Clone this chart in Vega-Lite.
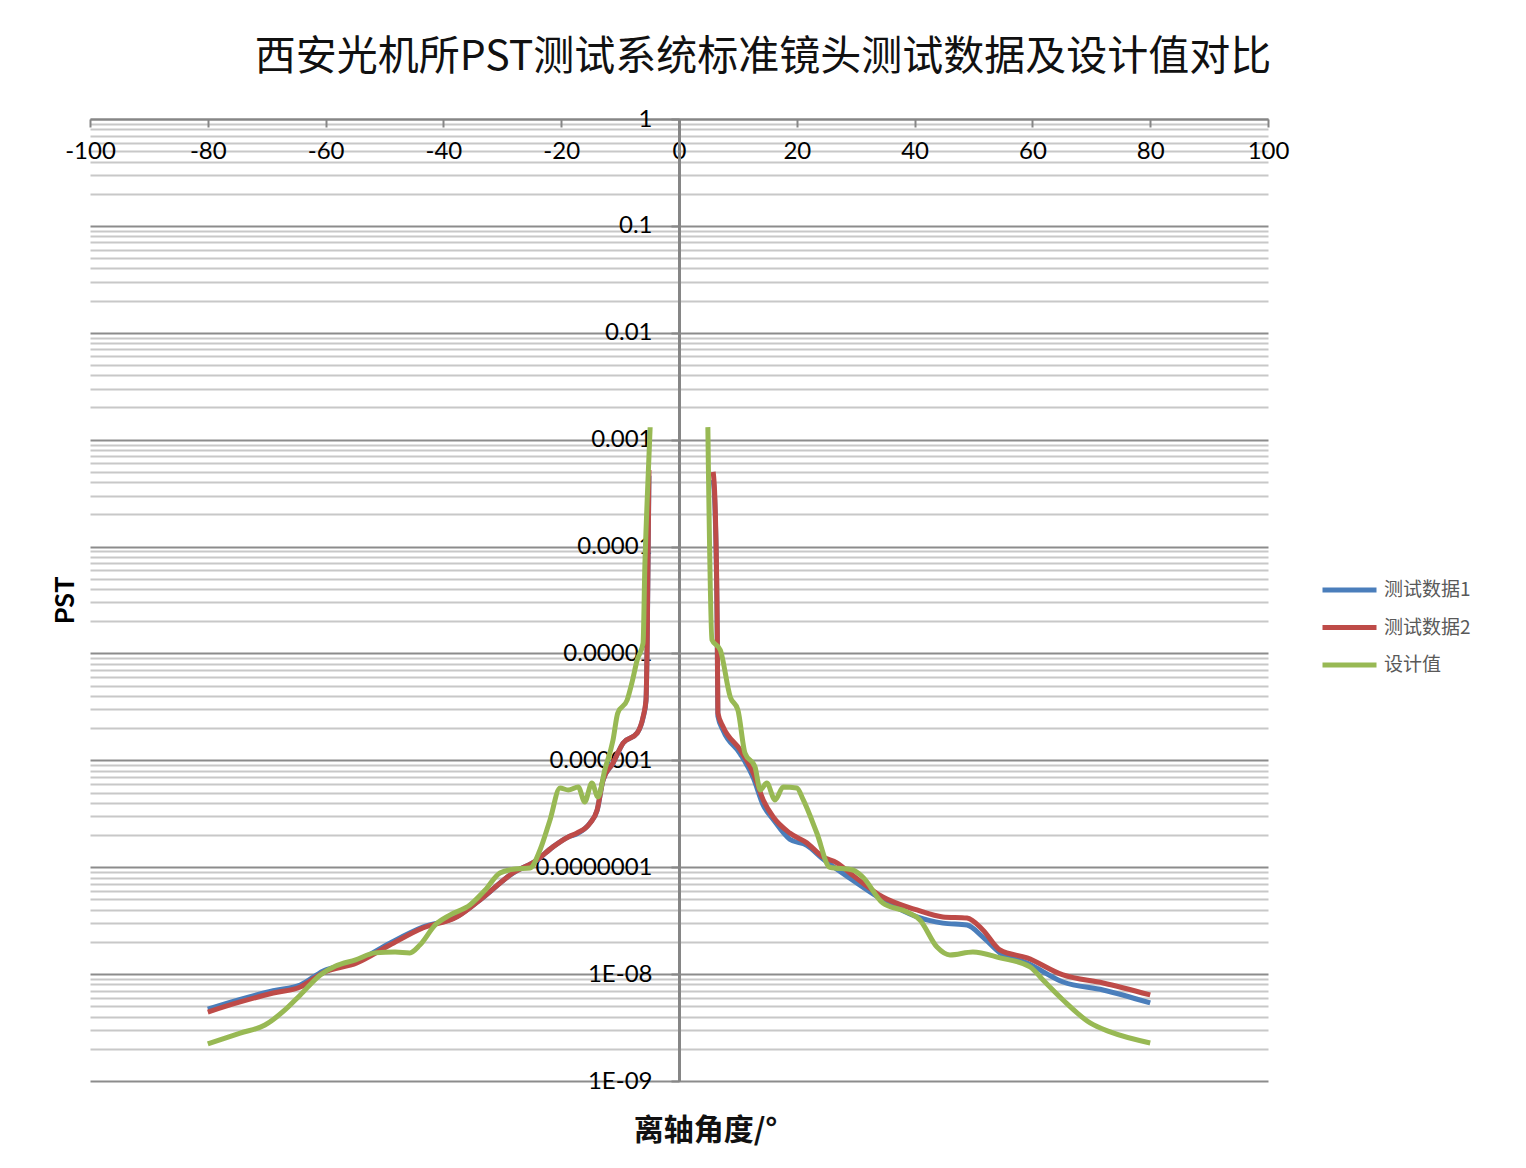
{
  "$schema": "https://vega.github.io/schema/vega-lite/v6.json",
  "width": 1178,
  "height": 962,
  "autosize": {"type": "none"},
  "padding": {"left": 90, "top": 119, "right": 258, "bottom": 87},
  "background": "white",
  "config": {"view": {"stroke": null}, "font": "Lato"},
  "title": {
    "text": "西安光机所PST测试系统标准镜头测试数据及设计值对比",
    "font": "Noto Sans CJK SC",
    "fontSize": 41,
    "fontWeight": "normal",
    "color": "#111111",
    "anchor": "middle",
    "frame": "group",
    "dx": 84,
    "offset": 28
  },
  "data": {
    "values": [
      {"s": "测试数据1", "side": "L", "x": -80, "y": 4.7e-9},
      {"s": "测试数据1", "side": "L", "x": -74.5, "y": 5.8e-9},
      {"s": "测试数据1", "side": "L", "x": -68.9, "y": 7.0e-9},
      {"s": "测试数据1", "side": "L", "x": -64.3, "y": 7.9e-9},
      {"s": "测试数据1", "side": "L", "x": -60.4, "y": 1.07e-8},
      {"s": "测试数据1", "side": "L", "x": -54.7, "y": 1.32e-8},
      {"s": "测试数据1", "side": "L", "x": -49.1, "y": 1.95e-8},
      {"s": "测试数据1", "side": "L", "x": -43.5, "y": 2.75e-8},
      {"s": "测试数据1", "side": "L", "x": -37.7, "y": 3.45e-8},
      {"s": "测试数据1", "side": "L", "x": -33.8, "y": 4.94e-8},
      {"s": "测试数据1", "side": "L", "x": -28.2, "y": 8.8e-8},
      {"s": "测试数据1", "side": "L", "x": -24.1, "y": 1.17e-7},
      {"s": "测试数据1", "side": "L", "x": -21.4, "y": 1.55e-7},
      {"s": "测试数据1", "side": "L", "x": -18.8, "y": 1.92e-7},
      {"s": "测试数据1", "side": "L", "x": -17.3, "y": 2.05e-7},
      {"s": "测试数据1", "side": "L", "x": -15.1, "y": 2.6e-7},
      {"s": "测试数据1", "side": "L", "x": -13.9, "y": 3.4e-7},
      {"s": "测试数据1", "side": "L", "x": -12.9, "y": 6.5e-7},
      {"s": "测试数据1", "side": "L", "x": -11.2, "y": 9.4e-7},
      {"s": "测试数据1", "side": "L", "x": -9.5, "y": 1.45e-6},
      {"s": "测试数据1", "side": "L", "x": -7.1, "y": 1.8e-6},
      {"s": "测试数据1", "side": "L", "x": -6.1, "y": 2.5e-6},
      {"s": "测试数据1", "side": "L", "x": -5.6, "y": 3.6e-6},
      {"s": "测试数据1", "side": "L", "x": -5.4, "y": 1.3e-5},
      {"s": "测试数据1", "side": "L", "x": -5.1, "y": 4.6e-4},
      {"s": "测试数据1", "side": "R", "x": 5.8, "y": 4.2e-4},
      {"s": "测试数据1", "side": "R", "x": 6.1, "y": 2.4e-4},
      {"s": "测试数据1", "side": "R", "x": 6.5, "y": 1.34e-5},
      {"s": "测试数据1", "side": "R", "x": 6.6, "y": 2.6e-6},
      {"s": "测试数据1", "side": "R", "x": 7.5, "y": 1.9e-6},
      {"s": "测试数据1", "side": "R", "x": 10.4, "y": 1.15e-6},
      {"s": "测试数据1", "side": "R", "x": 12.6, "y": 6.9e-7},
      {"s": "测试数据1", "side": "R", "x": 14.3, "y": 3.8e-7},
      {"s": "测试数据1", "side": "R", "x": 16.0, "y": 2.8e-7},
      {"s": "测试数据1", "side": "R", "x": 18.8, "y": 1.83e-7},
      {"s": "测试数据1", "side": "R", "x": 21.7, "y": 1.6e-7},
      {"s": "测试数据1", "side": "R", "x": 24.4, "y": 1.2e-7},
      {"s": "测试数据1", "side": "R", "x": 29.0, "y": 7.9e-8},
      {"s": "测试数据1", "side": "R", "x": 34.6, "y": 4.94e-8},
      {"s": "测试数据1", "side": "R", "x": 40.4, "y": 3.43e-8},
      {"s": "测试数据1", "side": "R", "x": 44.8, "y": 3.0e-8},
      {"s": "测试数据1", "side": "R", "x": 48.9, "y": 2.88e-8},
      {"s": "测试数据1", "side": "R", "x": 51.6, "y": 2.22e-8},
      {"s": "测试数据1", "side": "R", "x": 54.5, "y": 1.58e-8},
      {"s": "测试数据1", "side": "R", "x": 59.1, "y": 1.27e-8},
      {"s": "测试数据1", "side": "R", "x": 65.2, "y": 8.44e-9},
      {"s": "测试数据1", "side": "R", "x": 72.0, "y": 7.1e-9},
      {"s": "测试数据1", "side": "R", "x": 80.0, "y": 5.37e-9},

      {"s": "测试数据2", "side": "L", "x": -80, "y": 4.42e-9},
      {"s": "测试数据2", "side": "L", "x": -74.5, "y": 5.49e-9},
      {"s": "测试数据2", "side": "L", "x": -68.9, "y": 6.65e-9},
      {"s": "测试数据2", "side": "L", "x": -64.3, "y": 7.58e-9},
      {"s": "测试数据2", "side": "L", "x": -60.4, "y": 1.03e-8},
      {"s": "测试数据2", "side": "L", "x": -54.7, "y": 1.27e-8},
      {"s": "测试数据2", "side": "L", "x": -49.1, "y": 1.87e-8},
      {"s": "测试数据2", "side": "L", "x": -43.5, "y": 2.7e-8},
      {"s": "测试数据2", "side": "L", "x": -37.7, "y": 3.43e-8},
      {"s": "测试数据2", "side": "L", "x": -33.8, "y": 4.94e-8},
      {"s": "测试数据2", "side": "L", "x": -28.2, "y": 8.83e-8},
      {"s": "测试数据2", "side": "L", "x": -24.1, "y": 1.17e-7},
      {"s": "测试数据2", "side": "L", "x": -21.4, "y": 1.55e-7},
      {"s": "测试数据2", "side": "L", "x": -18.8, "y": 1.92e-7},
      {"s": "测试数据2", "side": "L", "x": -17.3, "y": 2.09e-7},
      {"s": "测试数据2", "side": "L", "x": -15.1, "y": 2.59e-7},
      {"s": "测试数据2", "side": "L", "x": -13.9, "y": 3.43e-7},
      {"s": "测试数据2", "side": "L", "x": -12.9, "y": 6.55e-7},
      {"s": "测试数据2", "side": "L", "x": -11.2, "y": 9.44e-7},
      {"s": "测试数据2", "side": "L", "x": -9.5, "y": 1.45e-6},
      {"s": "测试数据2", "side": "L", "x": -7.1, "y": 1.8e-6},
      {"s": "测试数据2", "side": "L", "x": -6.1, "y": 2.54e-6},
      {"s": "测试数据2", "side": "L", "x": -5.6, "y": 3.67e-6},
      {"s": "测试数据2", "side": "L", "x": -5.4, "y": 1.34e-5},
      {"s": "测试数据2", "side": "L", "x": -5.1, "y": 5.2e-4},
      {"s": "测试数据2", "side": "R", "x": 5.8, "y": 4.99e-4},
      {"s": "测试数据2", "side": "R", "x": 6.1, "y": 2.73e-4},
      {"s": "测试数据2", "side": "R", "x": 6.5, "y": 1.55e-5},
      {"s": "测试数据2", "side": "R", "x": 6.6, "y": 2.77e-6},
      {"s": "测试数据2", "side": "R", "x": 7.5, "y": 2.05e-6},
      {"s": "测试数据2", "side": "R", "x": 10.4, "y": 1.25e-6},
      {"s": "测试数据2", "side": "R", "x": 12.6, "y": 7.62e-7},
      {"s": "测试数据2", "side": "R", "x": 14.3, "y": 4.26e-7},
      {"s": "测试数据2", "side": "R", "x": 16.0, "y": 2.95e-7},
      {"s": "测试数据2", "side": "R", "x": 18.8, "y": 2.09e-7},
      {"s": "测试数据2", "side": "R", "x": 21.7, "y": 1.69e-7},
      {"s": "测试数据2", "side": "R", "x": 24.4, "y": 1.25e-7},
      {"s": "测试数据2", "side": "R", "x": 26.8, "y": 1.1e-7},
      {"s": "测试数据2", "side": "R", "x": 29.0, "y": 8.83e-8},
      {"s": "测试数据2", "side": "R", "x": 34.6, "y": 5.27e-8},
      {"s": "测试数据2", "side": "R", "x": 40.4, "y": 3.98e-8},
      {"s": "测试数据2", "side": "R", "x": 44.8, "y": 3.43e-8},
      {"s": "测试数据2", "side": "R", "x": 48.9, "y": 3.35e-8},
      {"s": "测试数据2", "side": "R", "x": 51.6, "y": 2.59e-8},
      {"s": "测试数据2", "side": "R", "x": 54.5, "y": 1.68e-8},
      {"s": "测试数据2", "side": "R", "x": 59.1, "y": 1.42e-8},
      {"s": "测试数据2", "side": "R", "x": 65.2, "y": 9.82e-9},
      {"s": "测试数据2", "side": "R", "x": 72.0, "y": 8.26e-9},
      {"s": "测试数据2", "side": "R", "x": 80.0, "y": 6.38e-9},

      {"s": "设计值", "side": "L", "x": -80, "y": 2.22e-9},
      {"s": "设计值", "side": "L", "x": -74.5, "y": 2.81e-9},
      {"s": "设计值", "side": "L", "x": -70.3, "y": 3.34e-9},
      {"s": "设计值", "side": "L", "x": -66.9, "y": 4.62e-9},
      {"s": "设计值", "side": "L", "x": -64.3, "y": 6.38e-9},
      {"s": "设计值", "side": "L", "x": -60.9, "y": 9.82e-9},
      {"s": "设计值", "side": "L", "x": -58.3, "y": 1.19e-8},
      {"s": "设计值", "side": "L", "x": -54.9, "y": 1.36e-8},
      {"s": "设计值", "side": "L", "x": -51.6, "y": 1.58e-8},
      {"s": "设计值", "side": "L", "x": -48.2, "y": 1.61e-8},
      {"s": "设计值", "side": "L", "x": -45.7, "y": 1.58e-8},
      {"s": "设计值", "side": "L", "x": -44.0, "y": 1.87e-8},
      {"s": "设计值", "side": "L", "x": -41.4, "y": 2.88e-8},
      {"s": "设计值", "side": "L", "x": -38.9, "y": 3.57e-8},
      {"s": "设计值", "side": "L", "x": -35.5, "y": 4.43e-8},
      {"s": "设计值", "side": "L", "x": -32.9, "y": 6.12e-8},
      {"s": "设计值", "side": "L", "x": -30.4, "y": 8.83e-8},
      {"s": "设计值", "side": "L", "x": -27.8, "y": 9.62e-8},
      {"s": "设计值", "side": "L", "x": -25.3, "y": 9.82e-8},
      {"s": "设计值", "side": "L", "x": -23.6, "y": 1.45e-7},
      {"s": "设计值", "side": "L", "x": -21.9, "y": 2.77e-7},
      {"s": "设计值", "side": "L", "x": -20.2, "y": 5.51e-7},
      {"s": "设计值", "side": "L", "x": -18.8, "y": 5.28e-7},
      {"s": "设计值", "side": "L", "x": -17.1, "y": 5.63e-7},
      {"s": "设计值", "side": "L", "x": -16.0, "y": 4.08e-7},
      {"s": "设计值", "side": "L", "x": -14.8, "y": 6.14e-7},
      {"s": "设计值", "side": "L", "x": -13.75, "y": 4.54e-7},
      {"s": "设计值", "side": "L", "x": -12.6, "y": 8.12e-7},
      {"s": "设计值", "side": "L", "x": -11.2, "y": 1.55e-6},
      {"s": "设计值", "side": "L", "x": -10.4, "y": 2.77e-6},
      {"s": "设计值", "side": "L", "x": -8.8, "y": 3.67e-6},
      {"s": "设计值", "side": "L", "x": -8.0, "y": 5.3e-6},
      {"s": "设计值", "side": "L", "x": -7.1, "y": 8.69e-6},
      {"s": "设计值", "side": "L", "x": -6.1, "y": 1.25e-5},
      {"s": "设计值", "side": "L", "x": -5.8, "y": 6.44e-5},
      {"s": "设计值", "side": "L", "x": -5.4, "y": 2.73e-4},
      {"s": "设计值", "side": "L", "x": -4.9, "y": 1.31e-3},
      {"s": "设计值", "side": "R", "x": 4.9, "y": 1.31e-3},
      {"s": "设计值", "side": "R", "x": 5.6, "y": 1.34e-5},
      {"s": "设计值", "side": "R", "x": 7.0, "y": 1.08e-5},
      {"s": "设计值", "side": "R", "x": 8.7, "y": 3.92e-6},
      {"s": "设计值", "side": "R", "x": 10.0, "y": 2.96e-6},
      {"s": "设计值", "side": "R", "x": 11.2, "y": 1.17e-6},
      {"s": "设计值", "side": "R", "x": 12.9, "y": 8.67e-7},
      {"s": "设计值", "side": "R", "x": 13.8, "y": 5.28e-7},
      {"s": "设计值", "side": "R", "x": 14.9, "y": 6.14e-7},
      {"s": "设计值", "side": "R", "x": 16.3, "y": 4.26e-7},
      {"s": "设计值", "side": "R", "x": 17.7, "y": 5.63e-7},
      {"s": "设计值", "side": "R", "x": 20.0, "y": 5.51e-7},
      {"s": "设计值", "side": "R", "x": 21.1, "y": 4.26e-7},
      {"s": "设计值", "side": "R", "x": 23.4, "y": 2.09e-7},
      {"s": "设计值", "side": "R", "x": 25.6, "y": 1.0e-7},
      {"s": "设计值", "side": "R", "x": 29.5, "y": 9.42e-8},
      {"s": "设计值", "side": "R", "x": 31.2, "y": 8.1e-8},
      {"s": "设计值", "side": "R", "x": 34.6, "y": 4.62e-8},
      {"s": "设计值", "side": "R", "x": 38.7, "y": 3.81e-8},
      {"s": "设计值", "side": "R", "x": 40.9, "y": 3.21e-8},
      {"s": "设计值", "side": "R", "x": 43.8, "y": 1.79e-8},
      {"s": "设计值", "side": "R", "x": 46.0, "y": 1.51e-8},
      {"s": "设计值", "side": "R", "x": 49.9, "y": 1.61e-8},
      {"s": "设计值", "side": "R", "x": 54.5, "y": 1.42e-8},
      {"s": "设计值", "side": "R", "x": 59.6, "y": 1.17e-8},
      {"s": "设计值", "side": "R", "x": 61.8, "y": 8.81e-9},
      {"s": "设计值", "side": "R", "x": 65.2, "y": 5.73e-9},
      {"s": "设计值", "side": "R", "x": 69.8, "y": 3.49e-9},
      {"s": "设计值", "side": "R", "x": 73.2, "y": 2.88e-9},
      {"s": "设计值", "side": "R", "x": 80.0, "y": 2.27e-9}
    ]
  },
  "layer": [
    {
      "mark": {"type": "line", "opacity": 0},
      "encoding": {
        "x": {
          "field": "x", "type": "quantitative",
          "scale": {"domain": [-100, 100], "nice": false, "zero": false},
          "axis": {
            "orient": "bottom", "offset": -962,
            "values": [-100, -80, -60, -40, -20, 0, 20, 40, 60, 80, 100],
            "labelExpr": "datum.value < 0 ? '-' + abs(datum.value) : '' + datum.value",
            "grid": false,
            "domainColor": "#868686", "domainWidth": 2,
            "tickColor": "#868686", "tickWidth": 2, "tickSize": 8,
            "labelFont": "Lato", "labelFontSize": 24, "labelColor": "#000000",
            "labelPadding": 12, "labelFlush": false, "labelOverlap": false, "labelBound": false,
            "title": "离轴角度/°",
            "titleFont": "Noto Sans CJK SC", "titleFontSize": 30, "titleFontWeight": "bold", "titleColor": "#111111",
            "titleX": 615, "titleY": 1011, "titleBaseline": "middle", "titleAlign": "center"
          }
        },
        "y": {
          "field": "y", "type": "quantitative",
          "scale": {"type": "log", "domain": [1e-9, 1], "nice": false},
          "axis": {
            "orient": "right", "title": null, "labels": false, "ticks": false, "domain": false,
            "grid": true,
            "values": [1e-9,2e-9,3e-9,4e-9,5e-9,6e-9,7e-9,8e-9,9e-9,
                       1e-8,2e-8,3e-8,4e-8,5e-8,6e-8,7e-8,8e-8,9e-8,
                       1e-7,2e-7,3e-7,4e-7,5e-7,6e-7,7e-7,8e-7,9e-7,
                       1e-6,2e-6,3e-6,4e-6,5e-6,6e-6,7e-6,8e-6,9e-6,
                       1e-5,2e-5,3e-5,4e-5,5e-5,6e-5,7e-5,8e-5,9e-5,
                       1e-4,2e-4,3e-4,4e-4,5e-4,6e-4,7e-4,8e-4,9e-4,
                       1e-3,2e-3,3e-3,4e-3,5e-3,6e-3,7e-3,8e-3,9e-3,
                       1e-2,2e-2,3e-2,4e-2,5e-2,6e-2,7e-2,8e-2,9e-2,
                       0.1,0.2,0.3,0.4,0.5,0.6,0.7,0.8,0.9,1],
            "gridColor": {
              "condition": {"test": "indexof([1,0.1,0.01,0.001,0.0001,0.00001,0.000001,1e-7,1e-8,1e-9], datum.value) >= 0", "value": "#8c8c8c"},
              "value": "#c8c8c8"
            },
            "gridWidth": 2
          }
        },
        "detail": [{"field": "s"}, {"field": "side"}]
      }
    },
    {
      "mark": {"type": "line", "strokeWidth": 5, "interpolate": "monotone"},
      "encoding": {
        "x": {
          "field": "x", "type": "quantitative",
          "scale": {"domain": [-100, 100], "nice": false, "zero": false},
          "axis": {
            "orient": "bottom", "offset": -962,
            "values": [-100, -80, -60, -40, -20, 0, 20, 40, 60, 80, 100],
            "labelExpr": "datum.value < 0 ? '-' + abs(datum.value) : '' + datum.value",
            "grid": false,
            "domainColor": "#868686", "domainWidth": 2,
            "tickColor": "#868686", "tickWidth": 2, "tickSize": 8,
            "labelFont": "Lato", "labelFontSize": 24, "labelColor": "#000000",
            "labelPadding": 12, "labelFlush": false, "labelOverlap": false, "labelBound": false,
            "title": "离轴角度/°",
            "titleFont": "Noto Sans CJK SC", "titleFontSize": 30, "titleFontWeight": "bold", "titleColor": "#111111",
            "titleX": 615, "titleY": 1011, "titleBaseline": "middle", "titleAlign": "center"
          }
        },
        "y": {
          "field": "y", "type": "quantitative",
          "scale": {"type": "log", "domain": [1e-9, 1], "nice": false},
          "axis": {
            "orient": "left", "offset": -589,
            "values": [1, 0.1, 0.01, 0.001, 0.0001, 0.00001, 0.000001, 1e-7, 1e-8, 1e-9],
            "labelExpr": "datum.value < 5e-8 ? (datum.value < 5e-9 ? '1E-09' : '1E-08') : format(datum.value, '.7~f')",
            "grid": false,
            "domainColor": "#868686", "domainWidth": 3,
            "tickColor": "#868686", "tickWidth": 2, "tickSize": 8,
            "labelFont": "Lato", "labelFontSize": 24, "labelColor": "#000000",
            "labelPadding": 19, "labelFlush": false, "labelOverlap": false, "labelBound": false,
            "title": "PST",
            "titleFont": "Lato", "titleFontSize": 27, "titleFontWeight": "bold", "titleColor": "#000000",
            "titleX": -614, "titleY": 481, "titleBaseline": "middle", "titleAlign": "center", "titleAngle": -90
          }
        },
        "color": {
          "field": "s", "type": "nominal",
          "scale": {"domain": ["测试数据1", "测试数据2", "设计值"], "range": ["#4A7EBB", "#BE4B48", "#98B954"]},
          "legend": {
            "orient": "none", "legendX": 1230, "legendY": 461, "title": null, "padding": 0,
            "symbolType": "stroke", "symbolSize": 2916, "symbolStrokeWidth": 5,
            "clipHeight": 20, "rowPadding": 17.5, "labelOffset": 5,
            "labelFont": "Noto Sans CJK SC", "labelFontSize": 19, "labelColor": "#595959"
          }
        },
        "detail": {"field": "side"}
      }
    }
  ],
  "resolve": {"axis": {"y": "independent"}}
}
